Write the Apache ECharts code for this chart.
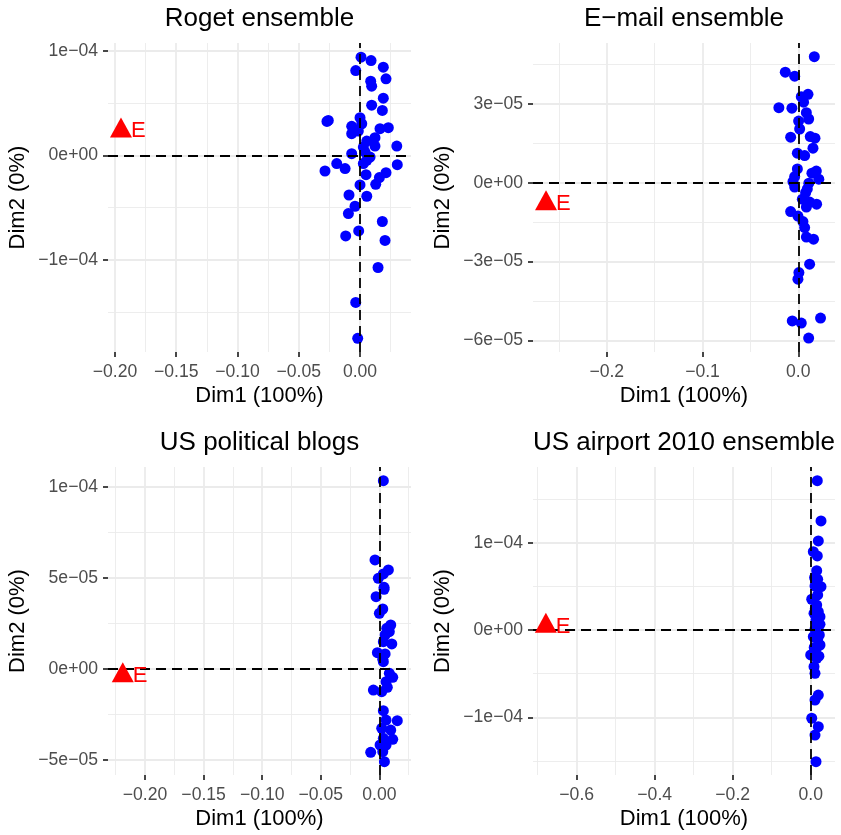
<!DOCTYPE html>
<html>
<head>
<meta charset="utf-8">
<script src="https://cdn.jsdelivr.net/npm/echarts@6/dist/echarts.min.js"></script>
<style>
  html, body { margin: 0; padding: 0; background: #fff; }
  #chart { width: 841px; height: 835px; }
</style>
</head>
<body>
<div id="chart"></div>
<script>
// --- Roget ensemble ---
const rogetPoints = [
  [0.0008, 9.41e-5], [0.0090, 9.09e-5], [-0.0035, 8.13e-5], [0.0190, 8.45e-5],
  [0.0212, 7.34e-5], [0.0087, 7.11e-5], [0.0095, 6.63e-5], [0.0190, 5.48e-5],
  [0.0095, 4.81e-5], [0.0182, 4.31e-5], [-0.0259, 3.35e-5], [-0.0270, 3.25e-5],
  [0.0000, 3.61e-5], [-0.0068, 2.78e-5], [0.0014, 3.03e-5], [-0.0014, 2.33e-5],
  [-0.0068, 2.08e-5], [0.0163, 2.56e-5], [0.0231, 2.65e-5], [0.0122, 1.69e-5],
  [0.0055, 1.37e-5], [0.0122, 8.9e-6], [0.0300, 8.9e-6], [0.0027, 7.9e-6],
  [-0.0068, 1.6e-6], [0.0041, 3.2e-6], [0.0082, -1.6e-6], [0.0027, -7.9e-6],
  [-0.0190, -7.9e-6], [-0.0286, -1.50e-5], [-0.0122, -1.27e-5], [0.0055, -4.8e-6],
  [0.0304, -8.9e-6], [0.0049, -1.85e-5], [0.0212, -1.66e-5], [0.0158, -2.13e-5],
  [0.0128, -2.78e-5], [0.0000, -2.84e-5], [-0.0090, -3.80e-5], [0.0055, -3.92e-5],
  [-0.0041, -4.88e-5], [-0.0095, -5.58e-5], [0.0182, -6.34e-5], [-0.0011, -7.24e-5],
  [-0.0117, -7.72e-5], [0.0204, -8.16e-5], [0.0147, -1.075e-4], [-0.0035, -1.41e-4],
  [-0.0019, -1.754e-4]
];
const rogetE = [-0.1951, 2.39e-5];
const rogetXTicks = [-0.2, -0.15, -0.1, -0.05, 0];
const rogetXLabels = ['\u22120.20', '\u22120.15', '\u22120.10', '\u22120.05', '0.00'];
const rogetXMinor = [-0.175, -0.125, -0.075, -0.025, 0.025];
const rogetYTicks = [1e-4, 0, -1e-4];
const rogetYLabels = ['1e\u221204', '0e+00', '\u22121e\u221204'];
const rogetYMinor = [5e-5, -5e-5, -1.5e-4];

// --- E-mail ensemble ---
const emailPoints = [
  [0.0167, 4.79e-5], [-0.0136, 4.20e-5], [-0.0038, 4.05e-5], [0.0101, 3.36e-5],
  [0.0031, 3.27e-5], [0.0055, 3.06e-5], [-0.0203, 2.85e-5], [-0.0067, 2.83e-5],
  [0.0084, 2.66e-5], [0.0108, 2.42e-5], [0.0003, 2.34e-5], [0.0014, 2.04e-5],
  [-0.0080, 1.73e-5], [0.0125, 1.75e-5], [0.0174, 1.69e-5], [0.0153, 1.31e-5],
  [-0.0010, 1.12e-5], [0.0066, 1.03e-5], [-0.0010, 5.2e-6], [0.0188, 4.4e-6],
  [0.0142, 3.6e-6], [-0.0038, 2.3e-6], [0.0214, 1.3e-6], [-0.0056, 4e-7],
  [0.0110, -2e-7], [-0.0038, -1.7e-6], [0.0094, -2.4e-6], [0.0076, -3.8e-6],
  [0.0042, -6.3e-6], [0.0118, -7.4e-6], [0.0191, -8.2e-6], [0.0084, -9.3e-6],
  [-0.0080, -1.10e-5], [-0.0004, -1.27e-5], [0.0048, -1.48e-5], [0.0066, -1.71e-5],
  [0.0084, -2.07e-5], [0.0159, -2.15e-5], [0.0118, -3.10e-5], [0.0006, -3.42e-5],
  [-0.0004, -3.67e-5], [-0.0063, -5.26e-5], [0.0031, -5.34e-5], [0.0232, -5.15e-5],
  [0.0108, -5.91e-5]
];
const emailE = [-0.2634, -7.8e-6];
const emailXTicks = [-0.2, -0.1, 0];
const emailXLabels = ['\u22120.2', '\u22120.1', '0.0'];
const emailXMinor = [-0.25, -0.15, -0.05];
const emailYTicks = [3e-5, 0, -3e-5, -6e-5];
const emailYLabels = ['3e\u221205', '0e+00', '\u22123e\u221205', '\u22126e\u221205'];
const emailYMinor = [4.5e-5, 1.5e-5, -1.5e-5, -4.5e-5];

// --- US political blogs ---
const blogsPoints = [
  [0.0034, 1.036e-4], [-0.0037, 6.0e-5], [0.0077, 5.45e-5], [0.0034, 5.23e-5],
  [-0.0009, 4.99e-5], [0.0040, 4.49e-5], [0.0040, 4.38e-5], [-0.0028, 3.98e-5],
  [0.0029, 3.30e-5], [0.0000, 3.06e-5], [0.0097, 2.42e-5], [0.0063, 2.24e-5],
  [0.0085, 2.05e-5], [0.0049, 1.87e-5], [0.0106, 1.38e-5], [0.0034, 1.50e-5],
  [-0.0017, 9.0e-6], [0.0049, 8.3e-6], [0.0029, 5.3e-6], [0.0034, 4.0e-6],
  [0.0085, -2.4e-6], [0.0114, -4.6e-6], [0.0057, -7.0e-6], [0.0068, -1.01e-5],
  [-0.0051, -1.16e-5], [0.0020, -1.25e-5], [0.0034, -2.29e-5], [0.0057, -2.81e-5],
  [0.0153, -2.84e-5], [0.0020, -3.26e-5], [0.0097, -3.36e-5], [0.0114, -3.87e-5],
  [0.0034, -3.81e-5], [0.0006, -4.18e-5], [0.0057, -4.18e-5], [0.0029, -4.55e-5],
  [-0.0074, -4.58e-5], [0.0043, -5.10e-5]
];
const blogsE = [-0.219, -3.5e-6];
const blogsXTicks = [-0.2, -0.15, -0.1, -0.05, 0];
const blogsXLabels = ['\u22120.20', '\u22120.15', '\u22120.10', '\u22120.05', '0.00'];
const blogsXMinor = [-0.225, -0.175, -0.125, -0.075, -0.025, 0.025];
const blogsYTicks = [1e-4, 5e-5, 0, -5e-5];
const blogsYLabels = ['1e\u221204', '5e\u221205', '0e+00', '\u22125e\u221205'];
const blogsYMinor = [7.5e-5, 2.5e-5, -2.5e-5];

// --- US airport 2010 ensemble ---
const airportPoints = [
  [0.0169, 1.71e-4], [0.0264, 1.249e-4], [0.0195, 1.02e-4], [0.0067, 8.97e-5],
  [0.0169, 8.48e-5], [0.0154, 6.79e-5], [0.0179, 5.81e-5], [0.0264, 4.96e-5],
  [0.0110, 5.04e-5], [0.0179, 4.01e-5], [0.0026, 3.52e-5], [0.0154, 2.86e-5],
  [0.0195, 2.10e-5], [0.0085, 1.91e-5], [0.0238, 1.52e-5], [0.0136, 9.5e-6],
  [0.0238, 6.5e-6], [0.0110, 8e-7], [0.0067, -7.7e-6], [0.0221, -5.7e-6],
  [0.0238, -1.72e-5], [0.0136, -2.21e-5], [0.0000, -2.86e-5], [0.0154, -3.24e-5],
  [0.0085, -4.20e-5], [0.0110, -4.96e-5], [0.0195, -7.45e-5], [0.0110, -8.02e-5],
  [0.0026, -1.011e-4], [0.0195, -1.108e-4], [0.0110, -1.203e-4], [0.0136, -1.509e-4],
  [0.0120, 2.5e-5], [0.0180, -1.0e-5], [0.0090, -2.0e-5], [0.0140, 1.2e-5],
  [0.0210, -3.0e-5], [0.0100, 6.0e-5]
];
const airportE = [-0.679, 5.0e-6];
const airportXTicks = [-0.6, -0.4, -0.2, 0];
const airportXLabels = ['\u22120.6', '\u22120.4', '\u22120.2', '0.0'];
const airportXMinor = [-0.7, -0.5, -0.3, -0.1];
const airportYTicks = [1e-4, 0, -1e-4];
const airportYLabels = ['1e\u221204', '0e+00', '\u22121e\u221204'];
const airportYMinor = [1.5e-4, 5e-5, -5e-5, -1.5e-4];

const FONT = 'Liberation Sans, Arial, Helvetica, sans-serif';

const panels = [
  { title: 'Roget ensemble', box: [108, 43, 303, 309], xRange: [-0.2057, 0.0416], yRange: [-1.885e-4, 1.077e-4],
    points: rogetPoints, e: rogetE, xTicks: rogetXTicks, xLabels: rogetXLabels, xMinor: rogetXMinor,
    yTicks: rogetYTicks, yLabels: rogetYLabels, yMinor: rogetYMinor },
  { title: 'E\u2212mail ensemble', box: [533, 43, 302, 309], xRange: [-0.277, 0.0383], yRange: [-6.44e-5, 5.31e-5],
    points: emailPoints, e: emailE, xTicks: emailXTicks, xLabels: emailXLabels, xMinor: emailXMinor,
    yTicks: emailYTicks, yLabels: emailYLabels, yMinor: emailYMinor },
  { title: 'US political blogs', box: [108, 467, 303, 308], xRange: [-0.2316, 0.027], yRange: [-5.83e-5, 1.111e-4],
    points: blogsPoints, e: blogsE, xTicks: blogsXTicks, xLabels: blogsXLabels, xMinor: blogsXMinor,
    yTicks: blogsYTicks, yLabels: blogsYLabels, yMinor: blogsYMinor },
  { title: 'US airport 2010 ensemble', box: [533, 467, 302, 308], xRange: [-0.712, 0.0623], yRange: [-1.661e-4, 1.867e-4],
    points: airportPoints, e: airportE, xTicks: airportXTicks, xLabels: airportXLabels, xMinor: airportXMinor,
    yTicks: airportYTicks, yLabels: airportYLabels, yMinor: airportYMinor }
];

function labelFor (ticks, labels) {
  return function (v) {
    let best = 0;
    ticks.forEach((t, i) => { if (Math.abs(t - v) < Math.abs(ticks[best] - v)) best = i; });
    return labels[best];
  };
}

const option = {
  backgroundColor: '#fff',
  animation: false,
  title: [], grid: [], xAxis: [], yAxis: [], series: []
};

panels.forEach((p, i) => {
  const [left, top, width, height] = p.box;
  option.title.push({
    text: p.title, left: left + width / 2, top: top - 24, padding: 0,
    textAlign: 'center', textVerticalAlign: 'middle',
    textStyle: { color: '#000', fontSize: 26, fontWeight: 'normal', fontFamily: FONT }
  });
  option.grid.push({ left, top, width, height, containLabel: false, outerBoundsMode: 'none' });

  // major x axis
  option.xAxis.push({
    type: 'value', gridIndex: i, min: p.xRange[0], max: p.xRange[1], position: 'bottom',
    name: 'Dim1 (100%)', nameLocation: 'middle', nameGap: 33,
    nameTextStyle: { color: '#000', fontSize: 22, fontFamily: FONT },
    axisLine: { show: false, onZero: false },
    axisTick: { show: true, length: 5, customValues: p.xTicks, lineStyle: { color: '#333', width: 1.8 } },
    axisLabel: { customValues: p.xTicks, formatter: labelFor(p.xTicks, p.xLabels), color: '#4d4d4d',
      fontSize: 17.6, margin: 11, fontFamily: FONT },
    splitLine: { show: true, lineStyle: { color: '#ebebeb', width: 1.8 } }
  });
  // minor x grid
  option.xAxis.push({
    type: 'value', gridIndex: i, min: p.xRange[0], max: p.xRange[1], position: 'top',
    axisLine: { show: false, onZero: false },
    axisTick: { show: false, customValues: p.xMinor },
    axisLabel: { show: false, customValues: p.xMinor },
    splitLine: { show: true, lineStyle: { color: '#ebebeb', width: 0.9 } }
  });
  // major y axis
  option.yAxis.push({
    type: 'value', gridIndex: i, min: p.yRange[0], max: p.yRange[1], position: 'left',
    name: 'Dim2 (0%)', nameLocation: 'middle', nameGap: 79,
    nameTextStyle: { color: '#000', fontSize: 22, fontFamily: FONT },
    axisLine: { show: false, onZero: false },
    axisTick: { show: true, length: 5, customValues: p.yTicks, lineStyle: { color: '#333', width: 1.8 } },
    axisLabel: { customValues: p.yTicks, formatter: labelFor(p.yTicks, p.yLabels), color: '#4d4d4d',
      fontSize: 17.6, margin: 10, fontFamily: FONT },
    splitLine: { show: true, lineStyle: { color: '#ebebeb', width: 1.8 } }
  });
  // minor y grid
  option.yAxis.push({
    type: 'value', gridIndex: i, min: p.yRange[0], max: p.yRange[1], position: 'right',
    axisLine: { show: false, onZero: false },
    axisTick: { show: false, customValues: p.yMinor },
    axisLabel: { show: false, customValues: p.yMinor },
    splitLine: { show: true, lineStyle: { color: '#ebebeb', width: 0.9 } }
  });

  option.series.push({
    type: 'scatter', xAxisIndex: 2 * i, yAxisIndex: 2 * i,
    data: p.points, symbol: 'circle', symbolSize: 11, z: 3,
    itemStyle: { color: '#0000ff', opacity: 1 },
    markLine: {
      silent: true, symbol: ['none', 'none'], z: 5, animation: false,
      label: { show: false },
      lineStyle: { color: '#000', width: 1.8, type: [10, 6] },
      data: [{ xAxis: 0 }, { yAxis: 0 }]
    }
  });
  option.series.push({
    type: 'scatter', xAxisIndex: 2 * i, yAxisIndex: 2 * i, z: 6,
    data: [p.e], symbol: 'triangle', symbolSize: [22, 20], symbolOffset: [0, -3],
    itemStyle: { color: '#ff0000', opacity: 1 },
    label: { show: true, formatter: 'E', position: 'right', distance: 0, offset: [-1, 4],
      color: '#ff0000', fontSize: 22, fontFamily: FONT }
  });
});

const chart = echarts.init(document.getElementById('chart'));
chart.setOption(option);
</script>
</body>
</html>
